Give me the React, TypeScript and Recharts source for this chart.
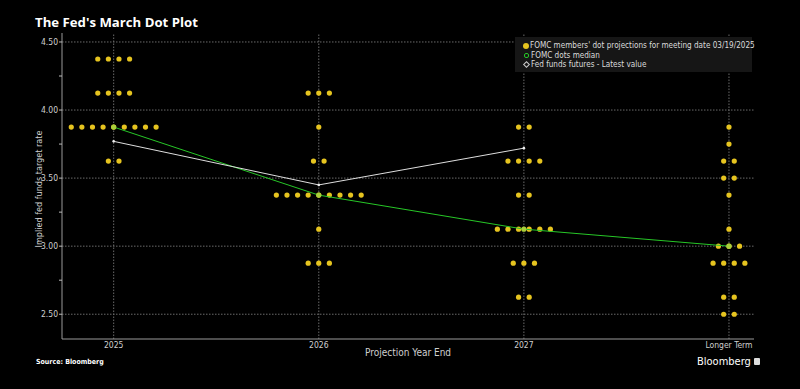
import { ComposedChart, Scatter, XAxis, YAxis, ReferenceLine } from 'recharts';

const categories = ['2025', '2026', '2027', 'Longer Term'];

// FOMC members' projections (19 participants per year)
const dots2025 = [4.375, 4.375, 4.375, 4.375, 4.125, 4.125, 4.125, 4.125, 3.875, 3.875, 3.875, 3.875, 3.875, 3.875, 3.875, 3.875, 3.875, 3.625, 3.625];
const dots2026 = [4.125, 4.125, 4.125, 3.875, 3.625, 3.625, 3.375, 3.375, 3.375, 3.375, 3.375, 3.375, 3.375, 3.375, 3.375, 3.125, 2.875, 2.875, 2.875];
const dots2027 = [3.875, 3.875, 3.625, 3.625, 3.625, 3.625, 3.375, 3.375, 3.125, 3.125, 3.125, 3.125, 3.125, 3.125, 2.875, 2.875, 2.875, 2.625, 2.625];
const dotsLonger = [3.875, 3.75, 3.625, 3.625, 3.5, 3.5, 3.375, 3.125, 3.0, 3.0, 3.0, 2.875, 2.875, 2.875, 2.875, 2.625, 2.625, 2.5, 2.5];

const medianValues = [3.875, 3.375, 3.125, 3.0];
const futuresValues = [3.77, 3.45, 3.72];

const yTicks = [2.5, 2.75, 3.0, 3.25, 3.5, 3.75, 4.0, 4.25, 4.5];
const yGrid = [2.5, 3.0, 3.5, 4.0, 4.5];

const DOT_GAP = 0.0517; // horizontal spacing between dots in a row (category units)

const buildDots = (values: number[], cat: number) => {
  const rows = new Map<number, number>();
  values.forEach((v) => rows.set(v, (rows.get(v) || 0) + 1));
  const out: { x: number; y: number }[] = [];
  rows.forEach((count, rate) => {
    for (let i = 0; i < count; i++) {
      out.push({ x: cat + (i - (count - 1) / 2) * DOT_GAP, y: rate });
    }
  });
  return out;
};

const dotData = [dots2025, dots2026, dots2027, dotsLonger].flatMap((vals, i) => buildDots(vals, i));
const medianData = medianValues.map((y, i) => ({ x: i, y }));
const futuresData = futuresValues.map((y, i) => ({ x: i, y }));

const YELLOW = '#e6c41f';
const GREEN = '#27c727';
const FONT = "'Liberation Sans Narrow', 'DejaVu Sans Condensed', 'Roboto Condensed', Roboto, sans-serif";

const LegendBox = () => (
  <div style={{
    position: 'absolute', left: 515, top: 37, background: '#161616', width: 237, height: 35,
    fontFamily: FONT, fontSize: 8.1, color: '#dcdcdc', lineHeight: '9.5px', padding: '4px 0 0 8px',
    boxSizing: 'border-box', whiteSpace: 'nowrap',
  }}>
    <div style={{ display: 'flex', alignItems: 'center' }}>
      <span style={{ flexShrink: 0, width: 6, height: 6, borderRadius: 3, background: YELLOW, marginRight: 1 }} />
      FOMC members' dot projections for meeting date 03/19/2025
    </div>
    <div style={{ display: 'flex', alignItems: 'center' }}>
      <span style={{ flexShrink: 0, width: 3, height: 3, borderRadius: 2, border: `1px solid ${GREEN}`, margin: '0 2px 0 1px' }} />
      FOMC dots median
    </div>
    <div style={{ display: 'flex', alignItems: 'center' }}>
      <span style={{ flexShrink: 0, width: 3, height: 3, transform: 'rotate(45deg)', border: '1px solid #ccc', margin: '0 2px 0 1px' }} />
      Fed funds futures - Latest value
    </div>
  </div>
);

export default function App() {
  return (
    <div style={{ position: 'fixed', left: 0, top: 0, width: 800, height: 389, background: '#000', overflow: 'hidden' }}>
      <ComposedChart width={800} height={389} margin={{ top: 33, right: 46, left: 0, bottom: 0 }}>
        <XAxis
          type="number"
          dataKey="x"
          domain={[-0.252, 3.122]}
          ticks={[0, 1, 2, 3]}
          tickFormatter={(i: number) => categories[i]}
          allowDataOverflow
          height={50}
          tickLine={false}
          tickSize={0}
          tickMargin={3}
          axisLine={{ stroke: '#9a9a9a' }}
          tick={{ fill: '#cfcfcf', fontSize: 8.5, fontFamily: FONT }}
        />
        <YAxis
          type="number"
          dataKey="y"
          domain={[2.318, 4.566]}
          ticks={yTicks}
          allowDataOverflow
          width={62}
          tickSize={3}
          tickMargin={1}
          tickLine={{ stroke: '#bbb' }}
          axisLine={{ stroke: '#9a9a9a' }}
          tickFormatter={(v: number) => (Math.abs(v * 2 - Math.round(v * 2)) < 1e-6 ? v.toFixed(2) : '')}
          tick={{ fill: '#cfcfcf', fontSize: 8.5, fontFamily: FONT }}
        />
        {yGrid.map((v) => (
          <ReferenceLine key={`h${v}`} y={v} stroke="#6a6a6a" strokeDasharray="1.5 1.5" />
        ))}
        {categories.map((c, i) => (
          <ReferenceLine key={`v${c}`} x={i} stroke="#6a6a6a" strokeDasharray="1.5 1.5" />
        ))}
        <Scatter
          data={dotData}
          isAnimationActive={false}
          shape={(p: any) => <circle cx={p.cx} cy={p.cy} r={2.6} fill={YELLOW} />}
        />
        <Scatter
          data={medianData}
          isAnimationActive={false}
          line={{ stroke: GREEN, strokeWidth: 1 }}
          shape={(p: any) => <circle cx={p.cx} cy={p.cy} r={2.6} fill="#a9cf3a" />}
        />
        <Scatter
          data={futuresData}
          isAnimationActive={false}
          line={{ stroke: '#dedede', strokeWidth: 1 }}
          shape={(p: any) => <circle cx={p.cx} cy={p.cy} r={1.3} fill="#eee" />}
        />
      </ComposedChart>
      <LegendBox />
      <div style={{ position: 'absolute', left: 35, top: 13, color: '#fff', fontFamily: "'Open Sans', sans-serif", fontWeight: 700, fontSize: 13.2 }}>
        The Fed's March Dot Plot
      </div>
      <div style={{
        position: 'absolute', left: 39, top: 189, transform: 'translate(-50%, -50%) rotate(-90deg)',
        whiteSpace: 'nowrap', color: '#cfcfcf', fontFamily: FONT, fontSize: 9,
      }}>
        Implied fed funds target rate
      </div>
      <div style={{
        position: 'absolute', left: 408, top: 352, transform: 'translate(-50%, -50%)',
        whiteSpace: 'nowrap', color: '#cfcfcf', fontFamily: FONT, fontSize: 10,
      }}>
        Projection Year End
      </div>
      <div style={{ position: 'absolute', left: 36, top: 358, color: '#fff', fontFamily: FONT, fontWeight: 700, fontSize: 7 }}>
        Source: Bloomberg
      </div>
      <div style={{
        position: 'absolute', left: 697, top: 355, color: '#fff', fontFamily: FONT, fontSize: 11,
        display: 'flex', alignItems: 'center',
      }}>
        Bloomberg
        <span style={{ display: 'inline-block', width: 6, height: 7, background: '#ddd', marginLeft: 3, borderRadius: 1 }} />
      </div>
    </div>
  );
}
